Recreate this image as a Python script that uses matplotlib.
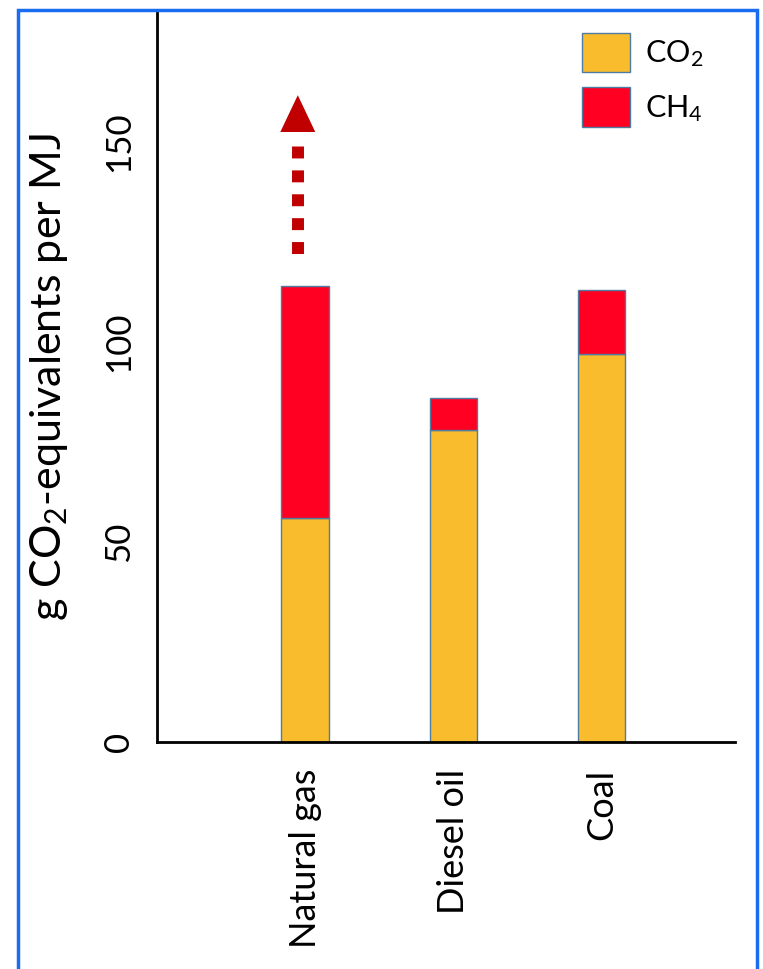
import matplotlib.pyplot as plt
import matplotlib.patches as mpatches
import numpy as np

plt.rcParams['font.family'] = ['Lato', 'DejaVu Sans']
plt.rcParams['mathtext.default'] = 'regular'

fuels = ['Natural gas', 'Diesel oil', 'Coal']
co2 = [56, 78, 97]
ch4 = [58, 8, 16]
yticks = [0, 50, 100, 150]

# uncertainty arrow above natural gas
arrow_from = 122
arrow_dots_to = 149
arrow_head_base = 152.5
arrow_to = 161.7

co2_color = '#F9BC2D'
ch4_color = '#FF0022'
edge = '#4F7BA0'

fig = plt.figure(figsize=(7.63, 9.69), dpi=100)
ax = fig.add_axes([157/763, 1 - 742/969, (735 - 157)/763, (742 - 12)/969])

x = np.arange(len(fuels))
w = 0.32
ax.bar(x, co2, w, color=co2_color, edgecolor=edge, linewidth=1, label='CO$_2$')
ax.bar(x, ch4, w, bottom=co2, color=ch4_color, edgecolor=edge, linewidth=1, label='CH$_4$')

# dotted arrow
ax_x = x[0] - 0.05
head_w = 0.118
ax.plot([ax_x, ax_x], [arrow_from, arrow_dots_to], color='#C00000',
        linewidth=8.6, linestyle=(0, (1, 1)), dash_capstyle='butt')
ax.fill([ax_x - head_w, ax_x + head_w, ax_x],
        [arrow_head_base, arrow_head_base, arrow_to], color='#C00000', lw=0)

ax.set_xlim(-1.0, 2.9)
ax.set_ylim(0, 182.5)
ax.set_xticks(x)
ax.set_xticklabels(fuels, rotation=90, fontsize=26)
ax.set_yticks(yticks)
ax.set_yticklabels([str(t) for t in yticks], rotation=90, va='center', fontsize=25)
ax.tick_params(length=0)
ax.tick_params(axis='y', pad=15.5)
ax.tick_params(axis='x', pad=19)

for s in ['top', 'right']:
    ax.spines[s].set_visible(False)
for s in ['left', 'bottom']:
    ax.spines[s].set_linewidth(2)

ax.set_ylabel('g CO$_2$-equivalents per MJ', fontsize=31)
ax.yaxis.set_label_coords(-0.15, 0.5)

handles = [mpatches.Patch(facecolor=co2_color, edgecolor=edge, label='CO$_2$'),
           mpatches.Patch(facecolor=ch4_color, edgecolor=edge, label='CH$_4$')]
fig.legend(handles=handles, loc='upper left', bbox_to_anchor=(582/763, 1 - 33/969),
           frameon=False, fontsize=22, borderpad=0, borderaxespad=0,
           handlelength=1.57, handleheight=1.6, labelspacing=0.49, handletextpad=0.49)

fig.patches.append(mpatches.Rectangle((18/763, -0.05), (757 - 18)/763, 1.05 - 10/969,
                                      transform=fig.transFigure, fill=False,
                                      edgecolor='#1A6CF0', linewidth=2.5))

fig.savefig('out.png', dpi=100)
